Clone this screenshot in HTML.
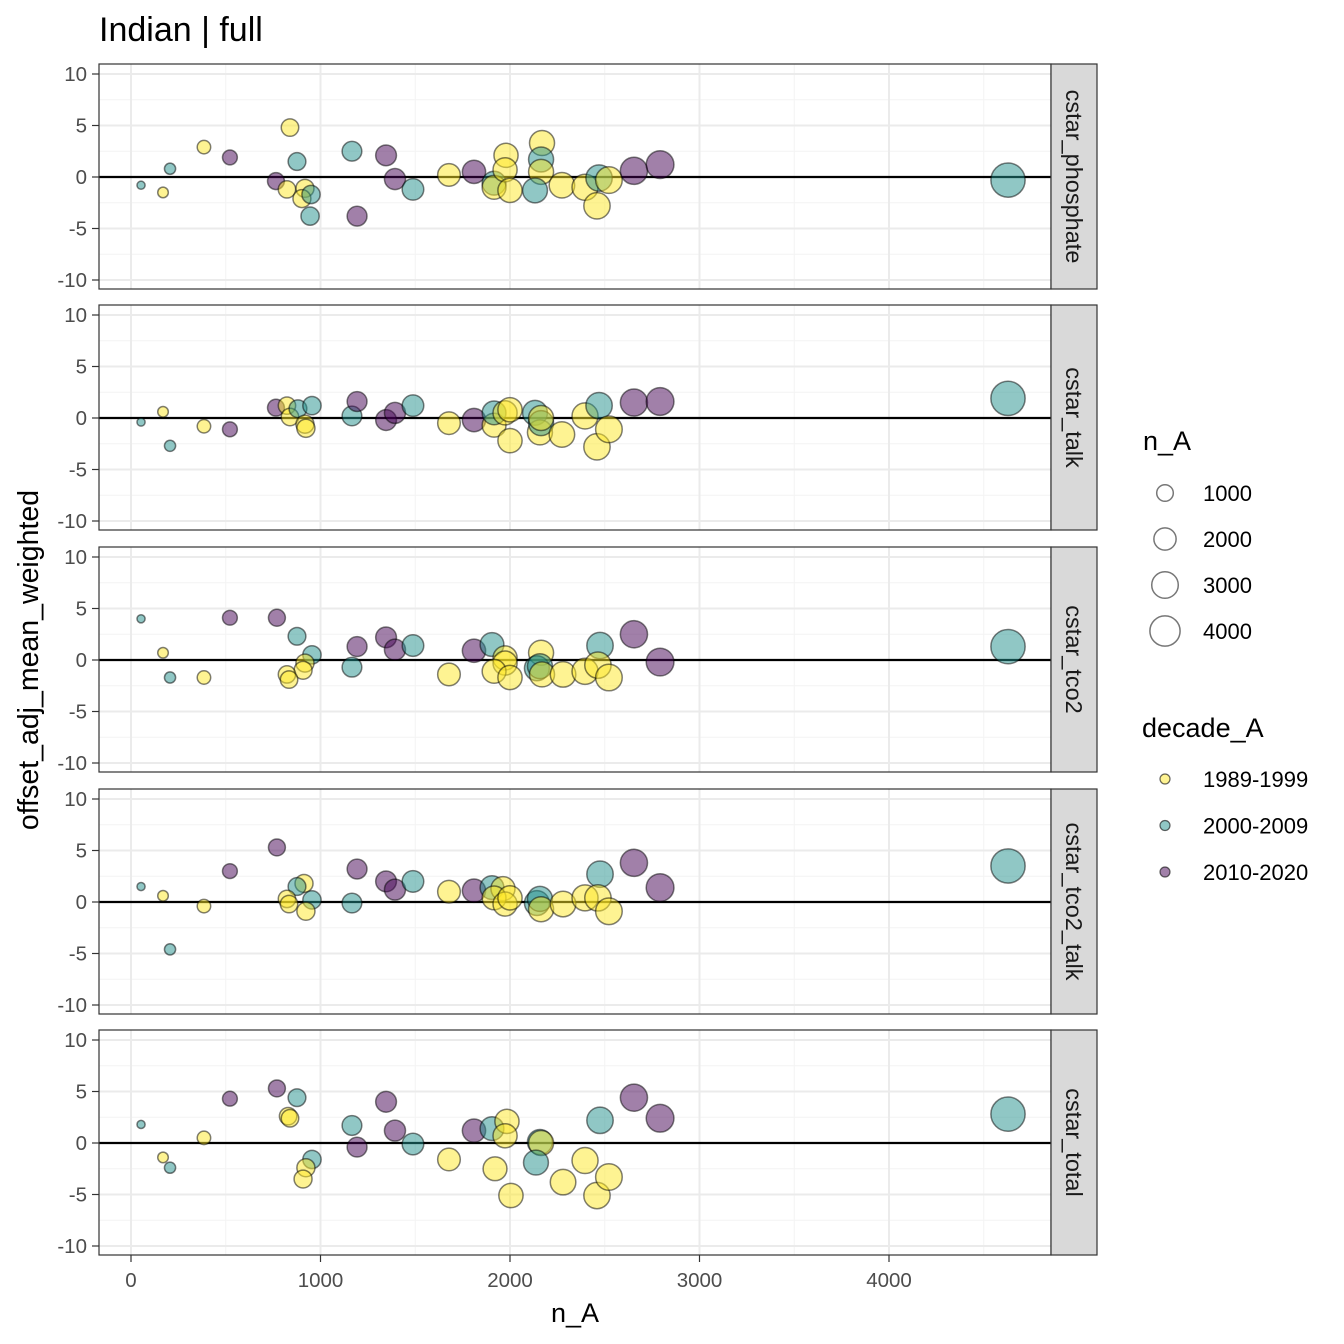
<!DOCTYPE html>
<html><head><meta charset="utf-8"><style>
body{margin:0;background:#fff;}
svg{font-family:"Liberation Sans",sans-serif;display:block;}
</style></head><body>
<svg id="chart" width="1344" height="1344" viewBox="0 0 1344 1344" xmlns="http://www.w3.org/2000/svg">
<text x="99" y="41" font-size="34" fill="#000">Indian | full</text>
<g id="panels"></g>
<text x="575" y="1322" font-size="27" text-anchor="middle" fill="#000">n_A</text>
<text transform="translate(38,660) rotate(-90)" font-size="28.5" text-anchor="middle" fill="#000">offset_adj_mean_weighted</text>
<g>
<text x="1143" y="450" font-size="27">n_A</text>
<g id="sizeLegend"></g>
</g>
<g>
<text x="1142" y="737" font-size="27">decade_A</text>
<g id="colorLegend"></g>
</g>
</svg>
<script>
const panelNames = ["cstar_phosphate","cstar_talk","cstar_tco2","cstar_tco2_talk","cstar_total"];
const decadeLabels = ["1989-1999","2000-2009","2010-2020"];
const xTicks = [0,1000,2000,3000,4000];
const yTicks = [-10,-5,0,5,10];
const sizeLegendValues = [1000,2000,3000,4000];
const p1n = [53,169,206,385,522,765,839,823,876,918,902,950,945,1166,1193,1346,1393,1488,1678,1810,1916,1916,1979,1974,2000,2169,2164,2164,2132,2274,2396,2459,2470,2522,2654,2792,4628];
const p1y = [-0.8,-1.5,0.8,2.9,1.9,-0.4,4.8,-1.2,1.5,-1.1,-2.1,-1.7,-3.8,2.5,-3.8,2.1,-0.2,-1.2,0.2,0.5,-0.6,-1.0,2.1,0.7,-1.3,3.3,1.7,0.5,-1.3,-0.8,-1.0,-2.8,-0.1,-0.3,0.6,1.2,-0.3];
const p1d = [1,0,1,0,2,2,0,0,1,0,0,1,1,1,2,2,2,1,0,2,1,0,0,0,0,0,1,0,1,0,0,0,1,0,2,2,1];
const p2n = [53,169,206,385,522,765,823,839,881,918,923,955,1166,1193,1346,1393,1488,1678,1810,1916,1916,1974,2000,2000,2132,2158,2164,2164,2274,2396,2459,2470,2522,2654,2792,4628];
const p2y = [-0.4,0.6,-2.7,-0.8,-1.1,1.0,1.2,0.1,0.9,-0.6,-1.0,1.2,0.2,1.6,-0.2,0.5,1.2,-0.5,-0.2,-0.7,0.5,0.5,0.8,-2.2,0.5,-1.4,-0.5,0.0,-1.6,0.2,-2.8,1.2,-1.1,1.5,1.6,1.9];
const p2d = [1,0,1,0,2,2,0,0,1,0,0,1,1,2,2,2,1,0,2,0,1,0,0,0,1,0,1,0,0,0,0,1,0,2,2,1];
const p3n = [53,522,770,876,169,955,918,908,823,834,206,385,1166,1193,1346,1393,1488,1678,1810,1905,1974,1974,1916,2000,2164,2142,2158,2169,2280,2396,2475,2464,2522,2654,2792,4628];
const p3y = [4.0,4.1,4.1,2.3,0.7,0.5,-0.3,-1.0,-1.4,-1.9,-1.7,-1.7,-0.7,1.3,2.2,1.0,1.4,-1.4,0.9,1.5,0.2,-0.3,-1.1,-1.7,0.7,-0.8,-0.6,-1.4,-1.4,-1.1,1.4,-0.5,-1.7,2.5,-0.2,1.3];
const p3d = [1,2,2,1,0,1,0,0,0,0,1,0,1,2,2,2,1,0,2,1,0,0,0,0,0,1,1,0,0,0,1,0,0,2,2,1];
const p4n = [53,169,385,206,522,770,913,876,823,834,955,923,1166,1193,1346,1393,1488,1678,1810,1905,1963,1916,1974,2000,2142,2158,2164,2280,2396,2475,2464,2522,2654,2792,4628];
const p4y = [1.5,0.6,-0.4,-4.6,3.0,5.3,1.8,1.5,0.3,-0.2,0.2,-0.9,-0.1,3.2,2.0,1.2,2.0,1.0,1.1,1.4,1.3,0.4,-0.2,0.4,-0.1,0.3,-0.7,-0.2,0.4,2.7,0.4,-0.9,3.8,1.4,3.5];
const p4d = [1,0,0,1,2,2,0,1,0,0,1,0,1,2,2,2,1,0,2,1,0,0,0,0,1,1,0,0,0,1,0,0,2,2,1];
const p5n = [53,169,206,385,522,770,876,829,839,955,923,908,1166,1193,1346,1393,1488,1678,1810,1905,1984,1974,1921,2005,2158,2164,2137,2280,2396,2475,2459,2522,2654,2792,4628];
const p5y = [1.8,-1.4,-2.4,0.5,4.3,5.3,4.4,2.6,2.4,-1.6,-2.4,-3.5,1.7,-0.4,4.0,1.2,-0.1,-1.6,1.2,1.4,2.1,0.7,-2.5,-5.1,0.1,0.0,-1.9,-3.8,-1.7,2.2,-5.1,-3.3,4.4,2.4,2.8];
const p5d = [1,0,1,0,2,2,1,0,0,1,0,0,1,2,2,2,1,0,2,1,0,0,0,0,1,0,1,0,0,1,0,0,2,2,1];

const panelN = [p1n,p2n,p3n,p4n,p5n];
const panelY = [p1y,p2y,p3y,p4y,p5y];
const panelD = [p1d,p2d,p3d,p4d,p5d];
const colors = ["#FDE725","#21908C","#440154"];
const NS = "http://www.w3.org/2000/svg";
const panelLeft = 99, panelRight = 1051, stripW = 46;
const panelTops = [64,305,547,789,1030], panelH = 225;
function xScale(n){ return 131 + n*0.1895; }
function yScale(v, p){ return panelTops[p] + 113 - v*10.3; }
function rScale(n){ return 2.5 + 0.215*Math.sqrt(n); }
function mk(tag, attrs, parent){ const e=document.createElementNS(NS,tag); for(const k in attrs) e.setAttribute(k,attrs[k]); parent.appendChild(e); return e; }
const root = document.getElementById("panels");
for(let p=0;p<5;p++){
  const g = mk("g",{},root);
  
  
  const top=panelTops[p], bot=top+panelH;
  mk("rect",{x:panelLeft,y:top,width:panelRight-panelLeft,height:panelH,fill:"#fff"},g);
  for(let v=-7.5;v<=7.5;v+=5){ const y=yScale(v,p); mk("line",{x1:panelLeft,x2:panelRight,y1:y,y2:y,stroke:"#F4F4F4","stroke-width":1},g); }
  for(let n=500;n<=4500;n+=1000){ const x=xScale(n); mk("line",{x1:x,x2:x,y1:top,y2:bot,stroke:"#F4F4F4","stroke-width":1},g); }
  yTicks.forEach(v=>{ const y=yScale(v,p); mk("line",{x1:panelLeft,x2:panelRight,y1:y,y2:y,stroke:"#EBEBEB","stroke-width":2},g); });
  xTicks.forEach(n=>{ const x=xScale(n); mk("line",{x1:x,x2:x,y1:top,y2:bot,stroke:"#EBEBEB","stroke-width":2},g); });
  const z=yScale(0,p);
  const zl = mk("line",{x1:panelLeft,x2:panelRight,y1:z,y2:z,stroke:"#000","stroke-width":2.2},g);
  
  
  const ns=panelN[p], ys=panelY[p], ds=panelD[p];
  for(let i=0;i<ns.length;i++){
    const c = mk("circle",{cx:xScale(ns[i]),cy:yScale(ys[i],p),r:rScale(ns[i]),fill:colors[ds[i]],"fill-opacity":0.5,stroke:"#000","stroke-opacity":0.5,"stroke-width":1.5},g);
    
    
  }
  mk("rect",{x:panelLeft,y:top,width:panelRight-panelLeft,height:panelH,fill:"none",stroke:"#333","stroke-width":1.2},g);
  yTicks.forEach(v=>{ const y=yScale(v,p);
    mk("line",{x1:92,x2:99,y1:y,y2:y,stroke:"#333","stroke-width":1.2},g);
    const t=mk("text",{x:87,y:y+7,"font-size":20.5,"text-anchor":"end",fill:"#4D4D4D"},g); t.textContent=v;
    
    
  });
  const s = mk("g",{},g);
  
  
  mk("rect",{x:panelRight,y:top,width:stripW,height:panelH,fill:"#D9D9D9",stroke:"#333","stroke-width":1.2},s);
  const st=mk("text",{transform:`translate(${panelRight+stripW/2-8},${top+panelH/2}) rotate(90)`,"font-size":23.5,"text-anchor":"middle",fill:"#1A1A1A"},s);
  st.textContent=panelNames[p];
}
xTicks.forEach(n=>{ const x=xScale(n);
  mk("line",{x1:x,x2:x,y1:1255,y2:1262,stroke:"#333","stroke-width":1.2},root);
  const t=mk("text",{x:x,y:1287,"font-size":20.5,"text-anchor":"middle",fill:"#4D4D4D"},root); t.textContent=n;
  
  
});
const sl=document.getElementById("sizeLegend");
sizeLegendValues.forEach((v,i)=>{ const y=493+i*46;
  const c=mk("circle",{cx:1165,cy:y,r:rScale(v)-1,fill:"none",stroke:"#777","stroke-width":1.5},sl);
  
  
  const t=mk("text",{x:1203,y:y+8,"font-size":22,fill:"#000"},sl); t.textContent=v;
  
  
});
const cl=document.getElementById("colorLegend");
decadeLabels.forEach((d,i)=>{ const y=779+i*46.5;
  const c=mk("circle",{cx:1165,cy:y,r:5,fill:colors[i],"fill-opacity":0.5,stroke:"#000","stroke-opacity":0.6,"stroke-width":1.2},cl);
  
  
  const t=mk("text",{x:1203,y:y+8,"font-size":22,fill:"#000"},cl); t.textContent=d;
  
  
});
</script>
</body></html>
